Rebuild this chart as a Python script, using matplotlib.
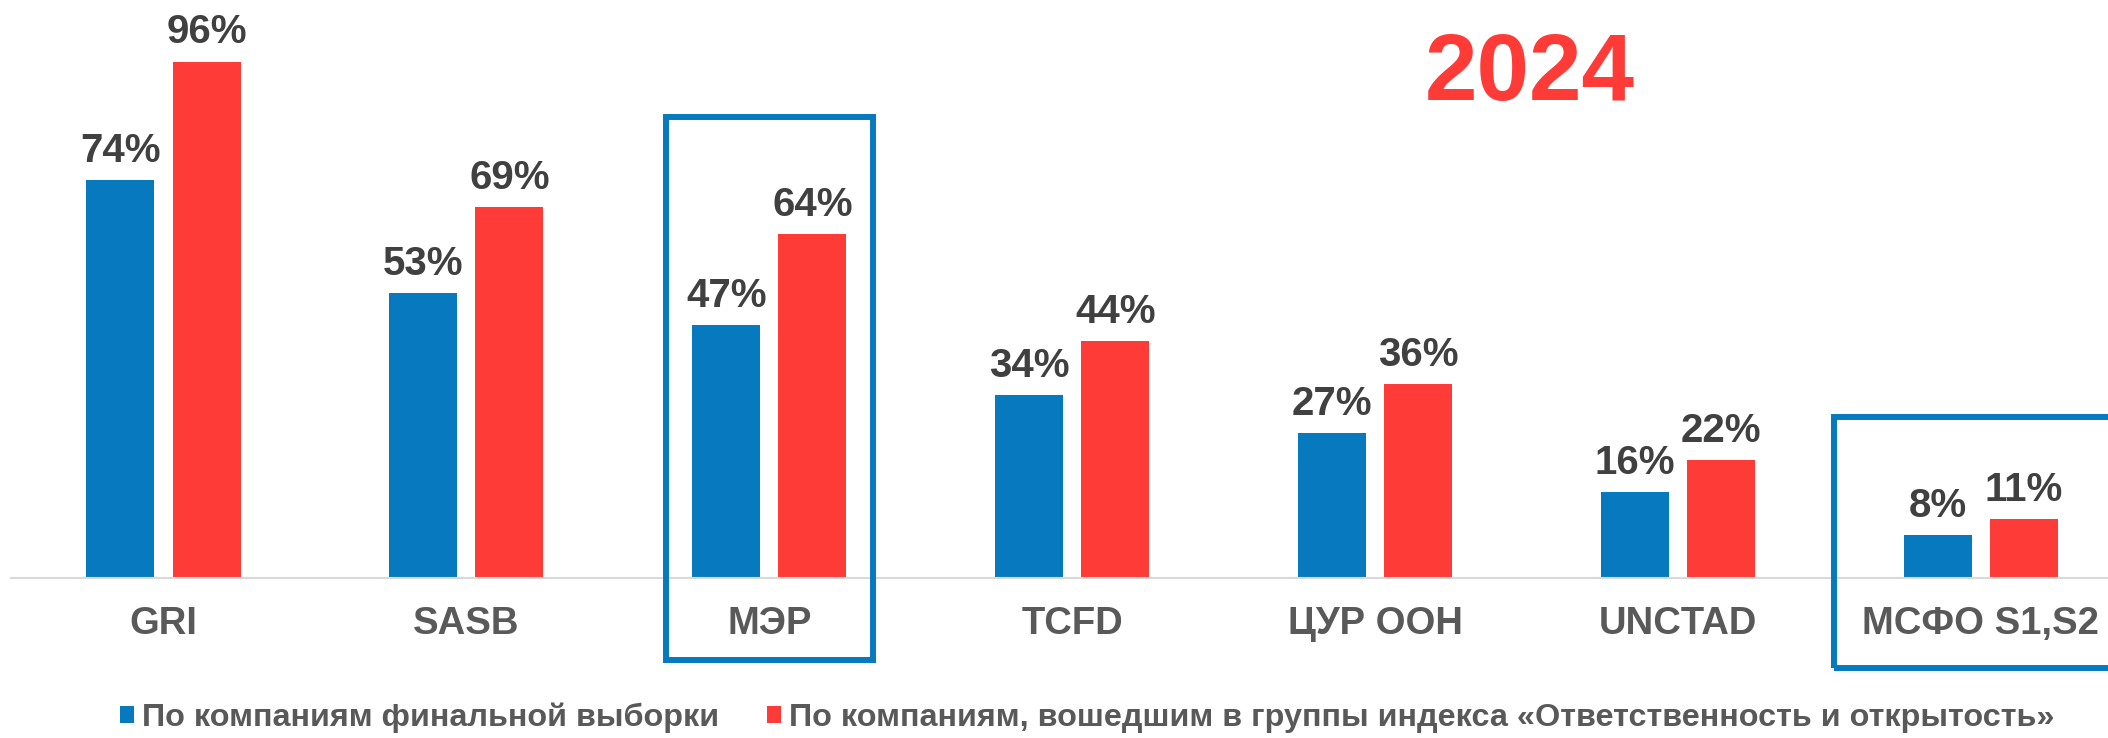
import matplotlib
matplotlib.use("Agg")
import matplotlib.pyplot as plt
from matplotlib.patches import Rectangle
import numpy as np

plt.rcParams['font.family'] = ['Liberation Sans', 'DejaVu Sans']

categories = ['GRI', 'SASB', 'МЭР', 'TCFD', 'ЦУР ООН', 'UNCTAD', 'МСФО S1,S2']
final_sample = [74, 53, 47, 34, 27, 16, 8]
index_groups = [96, 69, 64, 44, 36, 22, 11]
series_names = ['По компаниям финальной выборки',
                'По компаниям, вошедшим в группы индекса «Ответственность и открытость»']
year_label = '2024'

BLUE = '#0779BE'
RED = '#FF3B38'
VAL_COLOR = '#404040'
CAT_COLOR = '#595959'

W, H = 2108, 738
fig = plt.figure(figsize=(W / 100, H / 100), dpi=100)
ax = fig.add_axes([11 / W, (738 - 578) / H, 1 - 11 / W, (578 - 40) / H])

x = np.arange(len(categories))
bw = 0.2245
off = 0.142
b1 = ax.bar(x - off, final_sample, bw, color=BLUE, label=series_names[0])
b2 = ax.bar(x + off, index_groups, bw, color=RED, label=series_names[1])

for bars, vals in ((b1, final_sample), (b2, index_groups)):
    for rect, v in zip(bars, vals):
        ax.annotate(f'{v}%', (rect.get_x() + rect.get_width() / 2, v),
                    xytext=(0, 13), textcoords='offset points',
                    ha='center', va='baseline', fontsize=29,
                    fontweight='bold', color=VAL_COLOR, annotation_clip=False)

ax.set_xlim(-0.5035, 6.4196)
ax.set_ylim(0, 100)
ax.set_xticks(x)
ax.set_xticklabels(categories, fontsize=27.5, fontweight='bold', color=CAT_COLOR)
ax.tick_params(axis='x', length=0, pad=20)
ax.set_yticks([])
for s in ('top', 'right', 'left'):
    ax.spines[s].set_visible(False)
ax.spines['bottom'].set_color('#D9D9D9')
ax.spines['bottom'].set_linewidth(1.5)

# highlight boxes
for ci, half, top, bottom in ((2, 0.342, 85.7, -15.2), (6, 0.485, 29.9, -16.7)):
    ax.add_patch(Rectangle((ci - half, bottom), 2 * half, top - bottom,
                           fill=False, edgecolor=BLUE, linewidth=4.3,
                           clip_on=False, zorder=5))

fig.text(1530 / W, 1 - 100 / H, year_label, ha='center', va='baseline',
         fontsize=68, fontweight='bold', color=RED)

leg = fig.legend(handles=[b1, b2], loc='center left',
                 bbox_to_anchor=(120 / W, 1 - 718 / H), ncol=2, frameon=False,
                 fontsize=23.3, handlelength=0.42, handleheight=0.42,
                 handletextpad=0.25, columnspacing=1.5, borderpad=0, borderaxespad=0)
for t in leg.get_texts():
    t.set_color(CAT_COLOR)
    t.set_fontweight('bold')

fig.savefig('out.png', dpi=100, facecolor='white')
